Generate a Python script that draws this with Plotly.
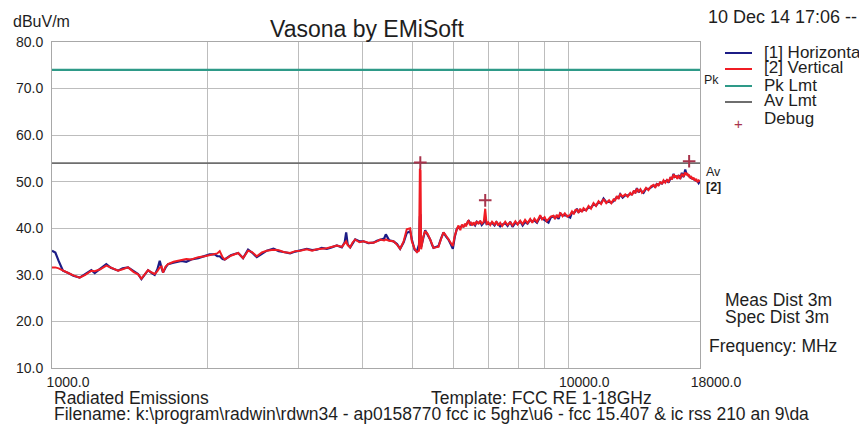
import plotly.graph_objects as go

# ---------------- data ----------------
freq_mhz = [
    1000, 1015, 1030, 1050, 1075, 1100, 1131, 1160, 1192, 1210,
    1240, 1274, 1300, 1343, 1370, 1404, 1440, 1468, 1490, 1535,
    1560, 1581, 1600, 1617, 1630, 1641, 1660, 1678, 1720, 1781,
    1820, 1862, 1920, 1977, 2020, 2067, 2090, 2113, 2140, 2161,
    2220, 2294, 2345, 2398, 2440, 2493, 2550, 2607, 2685, 2750,
    2808, 2892, 2960, 3024, 3116, 3190, 3258, 3330, 3407, 3480,
    3563, 3643, 3690, 3714, 3740, 3781, 3820, 3867, 3940, 4013,
    4100, 4195, 4260, 4323, 4400, 4433, 4500, 4586, 4660, 4725,
    4800, 4867, 4941, 4978, 5040, 5090, 5140, 5160, 5175, 5189,
    5240, 5283, 5340, 5402, 5450, 5483, 5540, 5607, 5670, 5734,
    5800, 5861, 5920, 5977, 6030, 6085, 6130, 6180, 6225, 6268,
    6310, 6340, 6375, 6410, 6445, 6480, 6520, 6555, 6600, 6650,
    6700, 6754, 6800, 6860, 6906, 6950, 7000, 7062, 7120, 7200,
    7260, 7320, 7383, 7450, 7550, 7630, 7720, 7800, 7900, 7980,
    8072, 8160, 8250, 8340, 8441, 8520, 8600, 8700, 8826, 8900,
    9000, 9080, 9158, 9250, 9365, 9430, 9500, 9580, 9649, 9750,
    9850, 9960, 10090, 10170, 10250, 10320, 10395, 10470, 10550, 10630,
    10707, 10830, 10950, 11070, 11196, 11320, 11450, 11580, 11707, 11850,
    12000, 12120, 12241, 12330, 12420, 12520, 12612, 12750, 12900, 13040,
    13187, 13290, 13400, 13490, 13587, 13690, 13800, 13900, 13996, 14150,
    14300, 14470, 14636, 14740, 14850, 14960, 15080, 15190, 15300, 15420,
    15534, 15650, 15780, 15890, 16003, 16090, 16180, 16270, 16365, 16480,
    16600, 16730, 16855, 16930, 17000, 17060, 17110, 17200, 17300, 17400,
    17495, 17600, 17700, 17800, 17889, 18000,
]

horizontal_dbuv = [
    35.2, 34.8, 33.0, 30.9, 30.4, 29.8, 29.4, 30.2, 31.0, 30.4,
    31.3, 32.3, 31.5, 30.9, 31.4, 31.6, 30.8, 30.2, 29.1, 31.0,
    30.4, 30.0, 31.2, 33.0, 31.5, 30.5, 31.6, 32.3, 32.6, 33.0,
    32.8, 33.3, 33.6, 34.0, 34.4, 34.4, 34.0, 34.0, 33.4, 33.3,
    34.2, 34.7, 33.6, 35.4, 34.8, 33.8, 34.6, 35.2, 35.6, 35.1,
    34.9, 34.6, 35.0, 35.2, 35.6, 35.3, 35.4, 35.8, 35.6, 35.9,
    36.3, 35.9, 37.0, 39.1, 36.5, 35.9, 36.8, 37.6, 37.2, 37.2,
    36.8, 36.9, 37.3, 37.6, 37.8, 38.7, 37.4, 37.2, 36.6, 35.6,
    37.0, 39.0, 39.4, 37.6, 35.4, 35.0, 36.5, 42.5, 43.0, 36.0,
    38.0, 39.6, 38.6, 37.6, 36.4, 35.8, 36.0, 36.2, 37.8, 39.1,
    38.2, 37.6, 36.6, 35.6, 38.2, 39.9, 40.1, 40.2, 40.5, 40.4,
    40.7, 40.8, 41.0, 41.7, 41.1, 40.8, 40.9, 41.0, 40.6, 41.4,
    41.1, 41.4, 40.7, 41.2, 42.0, 40.9, 41.0, 40.9, 41.2, 40.6,
    41.3, 40.8, 40.4, 40.8, 41.1, 40.5, 41.4, 40.3, 41.2, 40.9,
    41.5, 40.6, 41.4, 41.0, 41.8, 41.5, 41.7, 41.2, 42.5, 42.1,
    41.8, 41.6, 41.2, 42.3, 42.6, 42.2, 42.6, 42.0, 43.2, 42.8,
    42.7, 42.7, 42.3, 43.4, 43.3, 43.6, 44.2, 43.5, 43.8, 43.7,
    44.0, 43.9, 44.5, 44.4, 45.2, 44.9, 45.6, 45.4, 46.4, 45.6,
    45.7, 45.5, 45.8, 46.3, 46.7, 46.5, 47.3, 46.6, 47.1, 47.0,
    47.4, 47.3, 47.9, 47.7, 48.6, 47.7, 48.2, 47.9, 47.6, 48.5,
    48.4, 48.8, 49.2, 48.9, 49.5, 49.3, 49.8, 49.6, 50.1, 50.0,
    50.3, 49.8, 50.8, 50.7, 51.7, 51.0, 51.1, 50.9, 51.4, 50.6,
    51.9, 51.0, 52.6, 51.8, 51.6, 51.4, 51.2, 51.0, 50.8, 50.7,
    50.5, 50.4, 50.2, 50.1, 49.7, 50.2,
]

vertical_dbuv = [
    31.6, 31.6, 31.4, 30.9, 30.4, 29.9, 29.4, 30.0, 30.9, 30.8,
    31.2, 32.0, 31.6, 30.9, 31.2, 31.6, 30.6, 30.1, 29.2, 31.0,
    30.5, 30.2, 30.8, 31.6, 31.8, 30.5, 31.8, 32.3, 32.8, 33.1,
    33.4, 33.3, 33.8, 34.0, 34.2, 34.4, 34.6, 35.1, 33.8, 33.3,
    34.1, 34.7, 33.6, 35.2, 34.9, 34.0, 34.8, 35.2, 35.4, 35.3,
    34.9, 34.7, 35.1, 35.2, 35.5, 35.2, 35.5, 35.6, 35.7, 36.0,
    36.3, 36.0, 36.8, 37.2, 36.4, 35.9, 36.9, 37.6, 37.0, 37.2,
    36.9, 36.9, 37.2, 37.6, 37.4, 37.6, 37.3, 37.2, 36.5, 35.6,
    37.2, 39.8, 40.0, 37.2, 35.6, 34.9, 35.2, 52.8, 52.4, 35.5,
    38.2, 39.4, 38.8, 37.6, 36.4, 35.8, 35.9, 36.0, 37.7, 39.1,
    38.4, 37.5, 36.9, 36.2, 38.4, 39.8, 40.6, 39.6, 40.8, 40.2,
    41.0, 40.4, 41.3, 41.6, 40.9, 41.2, 40.6, 41.3, 40.8, 41.5,
    40.9, 41.6, 41.0, 41.4, 44.2, 40.8, 41.3, 40.7, 41.4, 40.8,
    41.5, 40.6, 41.2, 40.5, 41.4, 40.7, 41.3, 40.6, 41.5, 40.8,
    41.6, 40.9, 41.8, 41.1, 42.0, 41.2, 42.1, 41.4, 42.8, 41.9,
    42.4, 41.5, 41.9, 42.5, 42.7, 42.0, 42.9, 42.3, 43.4, 42.6,
    43.2, 42.5, 42.9, 43.6, 43.0, 43.9, 44.0, 43.3, 44.2, 43.5,
    44.3, 43.8, 44.8, 44.2, 45.4, 44.8, 45.8, 45.2, 46.3, 45.4,
    46.0, 45.4, 46.2, 46.0, 46.9, 46.3, 47.4, 46.8, 47.3, 46.8,
    47.6, 47.1, 48.1, 47.5, 48.5, 47.9, 48.4, 47.6, 47.9, 48.7,
    48.2, 49.0, 49.3, 48.7, 49.6, 49.1, 50.0, 49.5, 50.3, 49.8,
    50.4, 50.0, 51.0, 50.5, 51.6, 50.9, 51.3, 50.6, 51.2, 50.8,
    51.7, 51.2, 52.0, 51.4, 51.9, 51.2, 51.6, 50.8, 51.2, 50.5,
    50.9, 50.2, 50.6, 49.9, 50.3, 50.1,
]

assert len(freq_mhz) == len(horizontal_dbuv) == len(vertical_dbuv)

pk_limit_dbuv = 74.0
av_limit_dbuv = 54.0
freq_range_mhz = [1000, 18000]

debug_freq_mhz = [5170, 6906, 17150]
debug_dbuv = [54.1, 46.0, 54.4]

y_tick_vals = [10, 20, 30, 40, 50, 60, 70, 80]
y_tick_text = ["10.0", "20.0", "30.0", "40.0", "50.0", "60.0", "70.0", "80.0"]
x_grid_vals = [1000, 2000, 3000, 4000, 5000, 6000, 7000, 8000, 9000, 10000, 18000]
x_tick_text = ["1000.0", "", "", "", "", "", "", "", "", "10000.0", "18000.0"]

# ---------------- styling / layout ----------------
# the page body adds an 8 px offset, so the figure is drawn 8 px smaller
OFF = 8
W, H = 867 - OFF, 428 - OFF
L, R, T, B = 52, 700, 42, 368          # plot area in page pixels
FONT = "Liberation Sans, Arial, sans-serif"
C_H = "#1c1c86"
C_V = "#f01c24"
C_PK = "#2e9a88"
C_AV = "#6e6e6e"
C_DBG = "#a8344c"
C_GRID = "#bdbdbd"
C_TXT = "#1e1e1e"


def px(x):
    return (x - L) / (R - L)


def py(y):
    return (B - y) / (B - T)


fig = go.Figure()
fig.add_trace(go.Scatter(x=freq_range_mhz, y=[pk_limit_dbuv] * 2, mode="lines",
                         line=dict(color=C_PK, width=2.2), name="Pk Lmt"))
fig.add_trace(go.Scatter(x=freq_range_mhz, y=[av_limit_dbuv] * 2, mode="lines",
                         line=dict(color=C_AV, width=1.6), name="Av Lmt"))
fig.add_trace(go.Scatter(x=freq_mhz, y=horizontal_dbuv, mode="lines",
                         line=dict(color=C_H, width=2.2), name="[1] Horizontal"))
fig.add_trace(go.Scatter(x=freq_mhz, y=vertical_dbuv, mode="lines",
                         line=dict(color=C_V, width=2.0), name="[2] Vertical"))
fig.add_trace(go.Scatter(x=debug_freq_mhz, y=debug_dbuv, mode="markers",
                         marker=dict(symbol="cross-thin", size=9,
                                     line=dict(color=C_DBG, width=2)),
                         name="Debug"))

anns = []


def txt(s, x, y, size, xanchor="left", color=C_TXT, yanchor="middle"):
    anns.append(dict(text=s, x=px(x), y=py(y), xref="paper", yref="paper",
                     xanchor=xanchor, yanchor=yanchor, showarrow=False,
                     font=dict(family=FONT, size=size, color=color)))


txt("dBuV/m", 11, 22, 16)
txt("Vasona by EMiSoft", 367, 29, 23, xanchor="center")
txt("10 Dec 14 17:06 --", 706, 17, 18)

# legend (manual, to match placement)
legend_rows = [("[1] Horizontal", C_H, 53), ("[2] Vertical", C_V, 69),
               ("Pk Lmt", C_PK, 86), ("Av Lmt", C_AV, 102)]
shapes = []
for label, col, yy in legend_rows:
    shapes.append(dict(type="line", xref="paper", yref="paper",
                       x0=px(725), x1=px(752), y0=py(yy), y1=py(yy),
                       line=dict(color=col, width=2)))
    txt(label, 762, yy - 1, 17)
txt("+", 738, 123, 15, xanchor="center", color=C_DBG)
txt("Debug", 762, 119, 17)

txt("Pk", 702, 80, 12.5)
txt("Av", 704, 172, 12.5)
txt("<b>[2]</b>", 704, 187, 12.5)

txt("Meas Dist 3m", 723, 300, 17.5)
txt("Spec Dist 3m", 723, 317, 17.5)
txt("Frequency: MHz", 707, 346, 17.5)

txt("Radiated Emissions", 52, 398, 17.5)
txt("Template: FCC RE 1-18GHz", 429, 398, 17.5)
txt("Filename: k:\\program\\radwin\\rdwn34 - ap0158770 fcc ic 5ghz\\u6 - fcc 15.407 &amp; ic rss 210 an 9\\da",
    52, 414, 17.5)

fig.update_layout(
    width=W, height=H,
    margin=dict(l=L - OFF, r=W - (R - OFF), t=T - OFF, b=H - (B - OFF), autoexpand=False),
    paper_bgcolor="white", plot_bgcolor="white",
    showlegend=False,
    font=dict(family=FONT, color=C_TXT),
    annotations=anns, shapes=shapes,
)
fig.update_xaxes(type="log", range=[3, 4.2553], tickvals=x_grid_vals, ticktext=x_tick_text,
                 showgrid=True, gridcolor=C_GRID, gridwidth=1,
                 showline=True, linecolor="#a8a8a8", linewidth=1, mirror=True,
                 ticks="", ticklabelshift=16, ticklabelstandoff=1,
                 tickfont=dict(family=FONT, size=14, color=C_TXT), zeroline=False)
fig.update_yaxes(range=[10, 80], tickvals=y_tick_vals, ticktext=y_tick_text,
                 showgrid=True, gridcolor=C_GRID, gridwidth=1,
                 showline=True, linecolor="#a8a8a8", linewidth=1, mirror=True,
                 ticks="", ticklabelstandoff=5,
                 tickfont=dict(family=FONT, size=14, color=C_TXT), zeroline=False)

fig.write_html("out.html")
